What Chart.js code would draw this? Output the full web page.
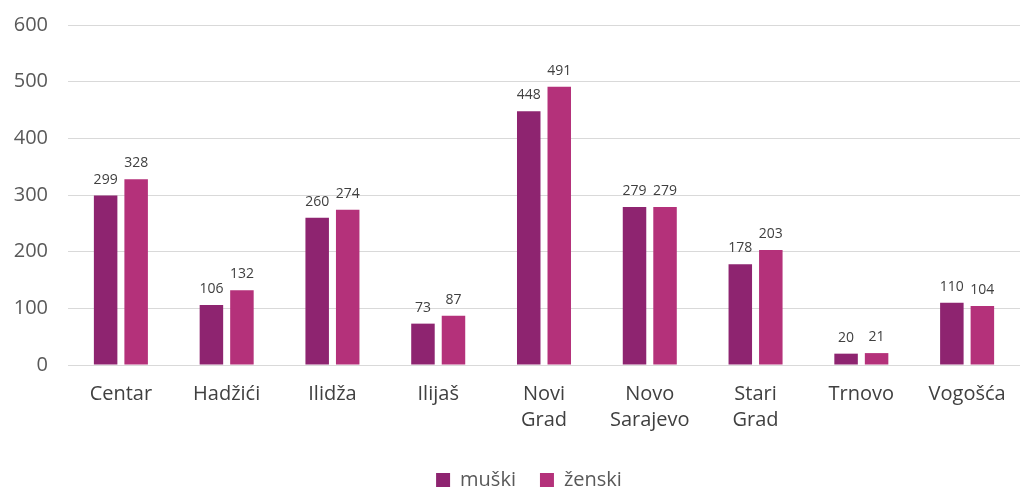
<!DOCTYPE html>
<html><head><meta charset="utf-8">
<script src="https://cdn.jsdelivr.net/npm/chart.js@4/dist/chart.umd.min.js"></script>
<style>html,body{margin:0;padding:0;background:#fff}#wrap{width:1025px;height:489px}</style>
</head><body><div id="wrap"><canvas id="c"></canvas></div>
<script>
const categories = [["Centar"],["Hadžići"],["Ilidža"],["Ilijaš"],["Novi","Grad"],["Novo","Sarajevo"],["Stari","Grad"],["Trnovo"],["Vogošća"]];
const muski = [299,106,260,73,448,279,178,20,110];
const zenski = [328,132,274,87,491,279,203,21,104];
const seriesNames = ["muški","ženski"];

const labelPlugin = {
  id:'vals',
  afterLayout(chart){
    const lg = chart.legend;
    const h = lg.bottom - lg.top;
    lg.top = 446; lg.bottom = 446 + h;
    lg.left += 19; lg.right += 19;
  },
  afterDatasetsDraw(chart){
    const ctx = chart.ctx;
    ctx.save();
    ctx.font = '14px "Open Sans"';
    ctx.fillStyle = '#404040';
    ctx.textAlign = 'center';
    ctx.textBaseline = 'alphabetic';
    chart.data.datasets.forEach((ds,i)=>{
      chart.getDatasetMeta(i).data.forEach((bar,j)=>{
        ctx.fillText(ds.data[j], bar.x, bar.y-12);
      });
    });
    ctx.restore();
  }
};

new Chart(document.getElementById('c'),{
  type:'bar',
  data:{labels:categories,datasets:[
    {label:seriesNames[0],data:muski,backgroundColor:'#8E2470',borderWidth:0},
    {label:seriesNames[1],data:zenski,backgroundColor:'#B4317A',borderWidth:0}
  ]},
  options:{
    responsive:true,maintainAspectRatio:false,animation:false,
    layout:{padding:{left:0,right:5,top:24,bottom:0}},
    datasets:{bar:{categoryPercentage:0.577,barPercentage:0.77}},
    plugins:{
      legend:{position:'bottom',labels:{font:{family:'"Open Sans"',size:20},color:'#595959',boxWidth:14,boxHeight:14,padding:24}},
      tooltip:{enabled:false}
    },
    scales:{
      x:{grid:{display:false},border:{display:false},
        afterFit:(s)=>{s.height -= 6;},
        ticks:{font:{family:'"Open Sans"',size:20,lineHeight:1.3},color:'#404040',padding:8}},
      y:{min:0,max:600,border:{display:false},
        afterFit:(s)=>{s.width = 68;},
        grid:{color:'#d9d9d9',lineWidth:1,drawTicks:false},
        ticks:{stepSize:100,font:{family:'"Open Sans"',size:20,lineHeight:0.5},color:'#595959',padding:20}}
    }
  },
  plugins:[labelPlugin]
});
</script></body></html>
